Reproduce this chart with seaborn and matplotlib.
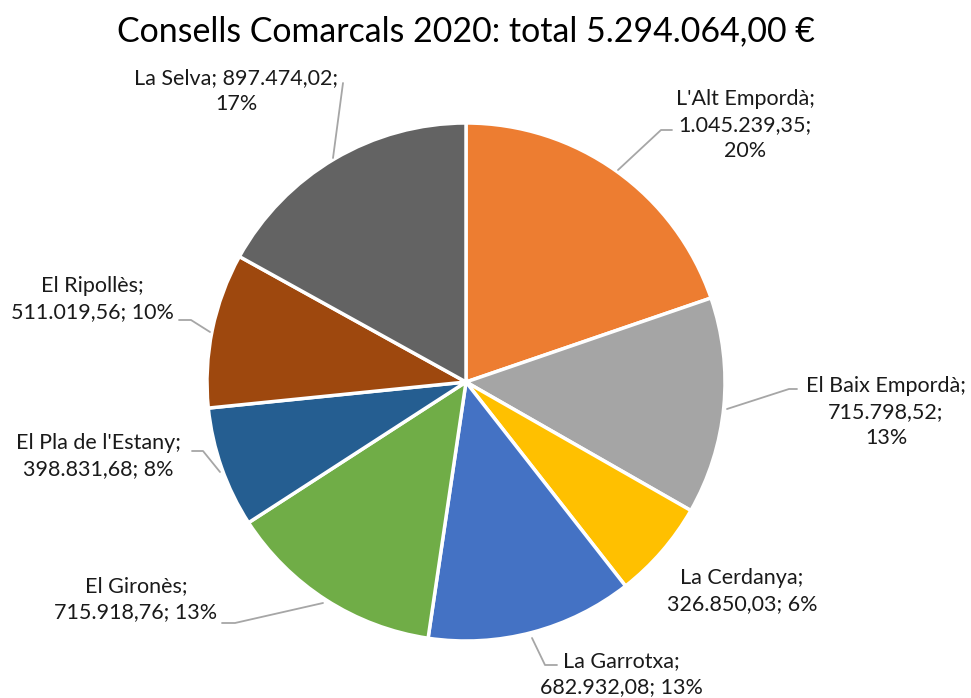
import matplotlib
matplotlib.use("Agg")
import matplotlib.pyplot as plt
import seaborn as sns

sns.set_theme(style="white")
plt.rcParams['font.family'] = ['Lato', 'DejaVu Sans']

# ---- data ----
categories = ["L'Alt Empordà", "El Baix Empordà", "La Cerdanya", "La Garrotxa",
              "El Gironès", "El Pla de l'Estany", "El Ripollès", "La Selva"]
values = [1045239.35, 715798.52, 326850.03, 682932.08,
          715918.76, 398831.68, 511019.56, 897474.02]
percent_labels = ["20%", "13%", "6%", "13%", "13%", "8%", "10%", "17%"]
value_labels = ["1.045.239,35", "715.798,52", "326.850,03", "682.932,08",
                "715.918,76", "398.831,68", "511.019,56", "897.474,02"]
title_text = "Consells Comarcals 2020: total 5.294.064,00 €"

# ---- styles / layout ----
colors = ["#ED7D31", "#A5A5A5", "#FFC000", "#4472C4",
          "#70AD47", "#255E91", "#9E480E", "#636363"]
W, H = 971, 698
fig = plt.figure(figsize=(W / 100, H / 100), dpi=100)
ax = fig.add_axes([0, 0, 1, 1])

cx, cy, r = 466, 382, 259
# y-axis inverted below: counterclock=True + startangle=-90 runs clockwise from top visually
ax.pie(values, colors=colors, startangle=-90, counterclock=True,
       center=(cx, cy), radius=r, frame=True,
       wedgeprops=dict(edgecolor="white", linewidth=2.5))
ax.set_xlim(0, W)
ax.set_ylim(H, 0)
ax.axis("off")

# label text layout (block centers, line break patterns)
label_layout = [
    (745, 125, "{c};\n{v};\n{p}"),
    (886, 412, "{c};\n{v};\n{p}"),
    (742, 591, "{c};\n{v}; {p}"),
    (621, 674, "{c};\n{v}; {p}"),
    (136, 599, "{c};\n{v}; {p}"),
    (98, 456, "{c};\n{v}; {p}"),
    (92, 299, "{c};\n{v}; {p}"),
    (236, 91, "{c}; {v};\n{p}"),
]
leaders = [
    [(672, 130), (661, 130), (618, 170)],
    [(797, 389), (789, 389), (727, 409)],
    None,
    [(557, 665), (545, 665), (532, 638)],
    [(222, 623), (235, 623), (323, 603)],
    [(192, 451), (203, 451), (220, 472)],
    [(179, 320), (191, 320), (210, 332)],
    [(343, 83), (343, 83), (333, 158)],
]

for c, v, p, (lx, ly, fmt), ld in zip(categories, value_labels, percent_labels,
                                      label_layout, leaders):
    ax.text(lx, ly, fmt.format(c=c, v=v, p=p), ha="center", va="center",
            fontsize=15.5, color="#1a1a1a", linespacing=1.4)
    if ld:
        xs = [pt[0] for pt in ld]
        ys = [pt[1] for pt in ld]
        ax.plot(xs, ys, color="#A6A6A6", lw=1.3)

ax.text(466, 31, title_text, ha="center", va="center", fontsize=24.4, color="#000000")

fig.savefig("out.png", dpi=100)
